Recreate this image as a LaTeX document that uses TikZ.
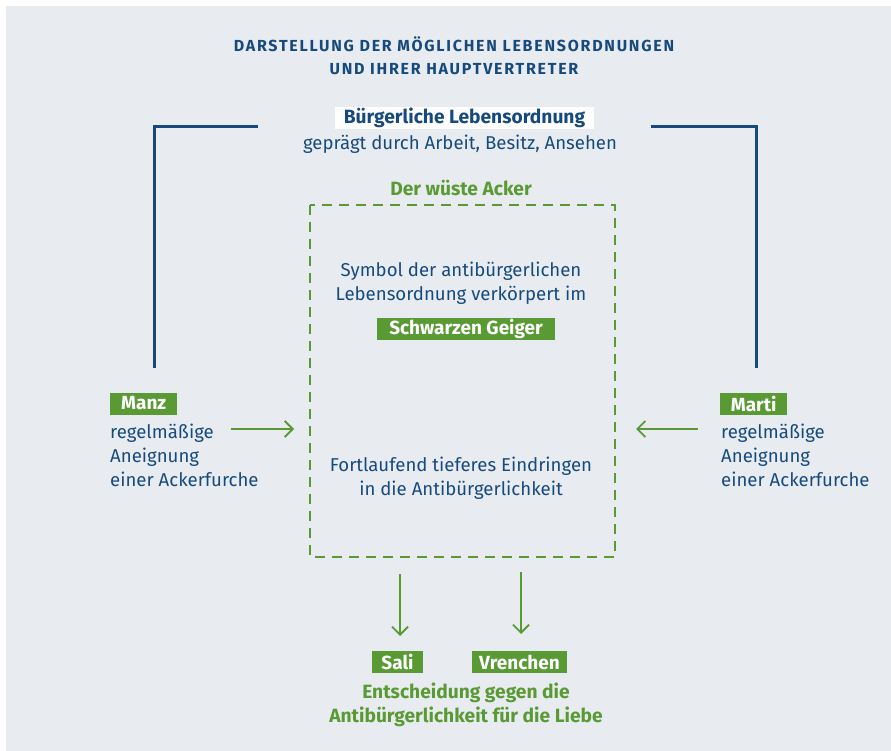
\documentclass[tikz,border=0pt]{standalone}
\usepackage{fontspec}
\setmainfont{Fira Sans}
\newfontfamily\titlefont[LetterSpace=11]{Fira Sans}
\usetikzlibrary{arrows.meta}
\definecolor{bg}{HTML}{E8ECF1}
\definecolor{navy}{HTML}{174A7C}
\definecolor{grn}{HTML}{5A9A34}
\tikzset{
  body/.style={text=navy, font=\fontsize{18.6}{24}\selectfont, inner sep=0pt},
  bodyl/.style={body, align=left, anchor=north west},
  bodyc/.style={body, align=center},
  gtitle/.style={text=grn, font=\fontsize{19.2}{24.5}\selectfont\bfseries, inner sep=0pt, align=center},
  gbox/.style={fill=grn, text=white, font=\fontsize{19}{20}\selectfont\bfseries, inner xsep=2pt, inner ysep=0pt, minimum height=22pt},
  wbox/.style={fill=white, text=navy, font=\fontsize{19.2}{20}\selectfont\bfseries, inner xsep=9pt, inner ysep=0pt, minimum height=22pt},
  bracket/.style={draw=navy, line width=3pt},
  garrow/.style={draw=grn, line width=1.8pt, -{Straight Barb[length=8pt,width=16pt]}},
  dashbox/.style={draw=grn, line width=2pt, dash pattern=on 10pt off 7pt}
}
\begin{document}
\begin{tikzpicture}[x=1pt,y=-1pt]
\useasboundingbox (0,0) rectangle (891,751);
\fill[bg] (6,6) rectangle (891,751);
% title
\node[text=navy, font=\titlefont\fontsize{16}{23}\selectfont\bfseries, align=center, inner sep=0pt] (title) at (454,56)
  {DARSTELLUNG DER MÖGLICHEN LEBENSORDNUNGEN\\UND IHRER HAUPTVERTRETER};
% top
\node[wbox] (buerg) at (464.5,118) {Bürgerliche Lebensordnung};
\node[bodyc] (gepr) at (460,144) {geprägt durch Arbeit, Besitz, Ansehen};
% brackets
\coordinate (l1) at (258,127);
\coordinate (l2) at (154,127);
\coordinate (l3) at (154,368);
\coordinate (r1) at (651,127);
\coordinate (r2) at (756,127);
\coordinate (r3) at (756,368);
\draw[bracket] (l1) -- (l2) -- (l3);
\draw[bracket] (r1) -- (r2) -- (r3);
% acker
\node[gtitle] (acker) at (461,188) {Der wüste Acker};
\draw[dashbox] (310,205) rectangle (615,557);
\node[bodyc] (symbol) at (461,283) {Symbol der antibürgerlichen\\Lebensordnung verkörpert im};
\node[gbox, minimum width=178pt] (geiger) at (466,328.5) {Schwarzen Geiger};
\node[bodyc] (fort) at (461,478) {Fortlaufend tieferes Eindringen\\in die Antibürgerlichkeit};
% Manz
\node[gbox, anchor=west, minimum width=67pt] (manz) at (110,403.5) {Manz};
\node[bodyl] (manztxt) at (110,424) {regelmäßige\\Aneignung\\einer Ackerfurche};
\node[gbox, anchor=west, minimum width=67pt] (marti) at (720,403.5) {Marti};
\node[bodyl] (martitxt) at (721,424) {regelmäßige\\Aneignung\\einer Ackerfurche};
\coordinate (la0) at (231,429);
\coordinate (la1) at (294,429);
\coordinate (ra0) at (698,429);
\coordinate (ra1) at (636,429);
\draw[garrow] (la0) -- (la1);
\draw[garrow] (ra0) -- (ra1);
% bottom
\coordinate (da0) at (400,574);
\coordinate (da1) at (400,636);
\coordinate (db0) at (521,572);
\coordinate (db1) at (521,634);
\draw[garrow] (da0) -- (da1);
\draw[garrow] (db0) -- (db1);
\node[gbox, minimum width=51pt] (sali) at (397.5,662) {Sali};
\node[gbox, minimum width=95pt] (vren) at (519.5,662) {Vrenchen};
\node[gtitle] (ent) at (466,705) {Entscheidung gegen die\\Antibürgerlichkeit für die Liebe};
\end{tikzpicture}
\end{document}
